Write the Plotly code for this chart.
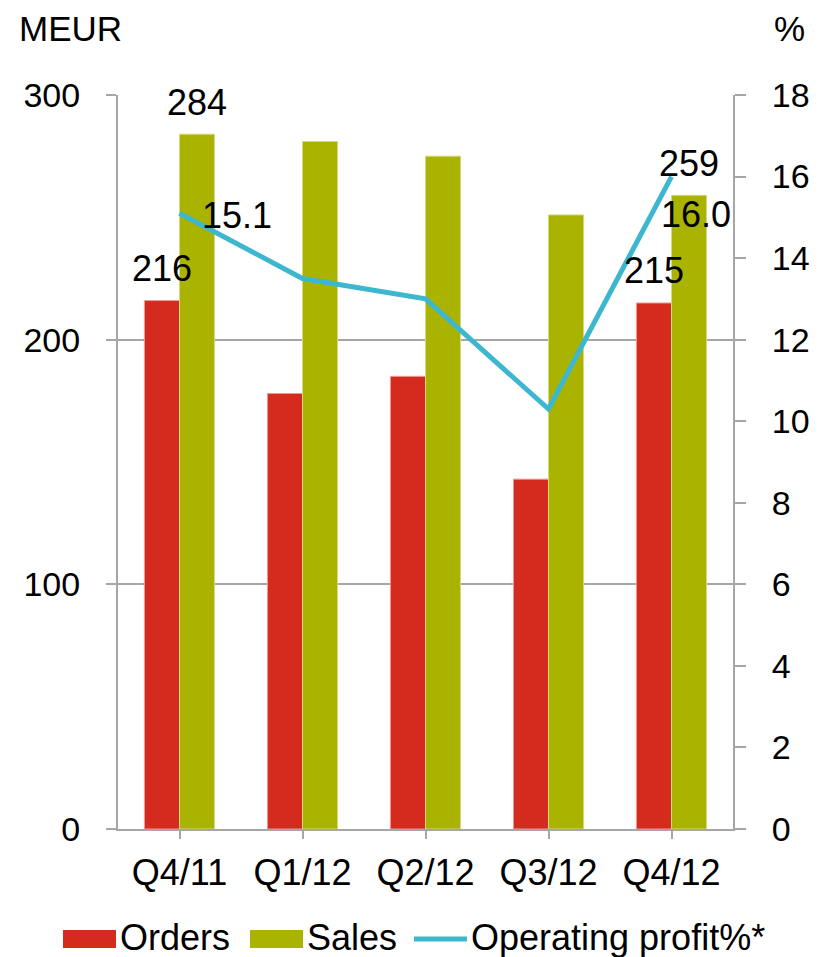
import plotly.graph_objects as go

# data
quarters = ["Q4/11", "Q1/12", "Q2/12", "Q3/12", "Q4/12"]
orders = [216, 178, 185, 143, 215]
sales = [284, 281, 275, 251, 259]
op_profit = [15.1, 13.5, 13.0, 10.3, 16.0]
series_names = ["Orders", "Sales", "Operating profit%*"]
labelled = [0, 4]  # only first and last quarter carry value labels

RED = "#D52B1E"
GREEN = "#AAB400"
BLUE = "#3DB7CF"
GRID = "#A6A6A6"
FONT = "Liberation Sans, Arial, sans-serif"
FS = 36
TICK_FS = 34
EDGE_FS = 35
LEGEND_FS = 36

# the page body has an 8px margin, so the figure starts at (8, 8)
OFF = 8
W, H = 819 - OFF, 957 - OFF
L, T = 118 - OFF, 95 - OFF
R = (OFF + W) - 733
B = (OFF + H) - 829


def px_x(px):
    # pixel position in the reference -> paper coordinate
    return (px - OFF - L) / (W - L - R)


def px_y(py):
    return (H - B - (py - OFF)) / (H - B - T)


fig = go.Figure()
fig.add_trace(
    go.Bar(x=quarters, y=orders, name=series_names[0], marker_color=RED,
           marker_line=dict(color="#EE9A94", width=1))
)
fig.add_trace(
    go.Bar(x=quarters, y=sales, name=series_names[1], marker_color=GREEN,
           marker_line=dict(color="#D4DA80", width=1))
)
fig.add_trace(
    go.Scatter(x=quarters, y=op_profit, name=series_names[2], yaxis="y2",
               mode="lines", line=dict(color=BLUE, width=5))
)

annotations = []
for i in labelled:
    annotations.append(dict(x=quarters[i], y=orders[i], xref="x", yref="y",
                            text=str(orders[i]), showarrow=False,
                            xshift=-18, yshift=32, yanchor="middle"))
    annotations.append(dict(x=quarters[i], y=sales[i], xref="x", yref="y",
                            text=str(sales[i]), showarrow=False,
                            xshift=17, yshift=32, yanchor="middle"))
annotations.append(dict(x=quarters[0], y=op_profit[0], xref="x", yref="y2",
                        text=f"{op_profit[0]:.1f}", showarrow=False,
                        xanchor="left", xshift=20, yshift=-2))
annotations.append(dict(x=quarters[4], y=op_profit[4], xref="x", yref="y2",
                        text=f"{op_profit[4]:.1f}", showarrow=False,
                        xshift=24, yshift=-38))

# axis titles at the top corners
annotations.append(dict(x=px_x(17), y=px_y(28), xref="paper", yref="paper",
                        text="MEUR", showarrow=False, xanchor="left",
                        yanchor="middle", font=dict(size=EDGE_FS)))
annotations.append(dict(x=px_x(807), y=px_y(28), xref="paper", yref="paper",
                        text="%", showarrow=False, xanchor="right",
                        yanchor="middle", font=dict(size=EDGE_FS)))

# legend drawn by hand so the swatches match the original size
shapes = [
    dict(type="rect", xref="paper", yref="paper", x0=px_x(63), x1=px_x(116),
         y0=px_y(948), y1=px_y(930), fillcolor=RED, line_width=0),
    dict(type="rect", xref="paper", yref="paper", x0=px_x(250), x1=px_x(303),
         y0=px_y(948), y1=px_y(930), fillcolor=GREEN, line_width=0),
    dict(type="line", xref="paper", yref="paper", x0=px_x(414), x1=px_x(467),
         y0=px_y(939), y1=px_y(939), line=dict(color=BLUE, width=5)),
]
for name, left in zip(series_names, [118, 305, 469]):
    annotations.append(dict(x=px_x(left), y=px_y(937), xref="paper", yref="paper",
                            text=name, showarrow=False, xanchor="left",
                            yanchor="middle", font=dict(size=LEGEND_FS)))

fig.update_layout(
    width=W,
    height=H,
    margin=dict(l=L, r=R, t=T, b=B, autoexpand=False),
    barmode="group",
    bargap=0.43,
    bargroupgap=0,
    showlegend=False,
    plot_bgcolor="white",
    paper_bgcolor="white",
    font=dict(family=FONT, size=FS, color="black"),
    annotations=annotations,
    shapes=shapes,
    xaxis=dict(
        type="category",
        range=[-0.5, 4.5],
        automargin=False,
        showline=True,
        linecolor=GRID,
        linewidth=2,
        ticks="outside",
        ticklen=8,
        tickwidth=2,
        tickcolor=GRID,
        ticklabelstandoff=3,
        showgrid=False,
    ),
    yaxis=dict(
        range=[0, 300],
        dtick=100,
        automargin=False,
        showline=True,
        linecolor=GRID,
        linewidth=2,
        ticks="outside",
        ticklen=10,
        tickwidth=2,
        tickcolor=GRID,
        tickfont=dict(size=TICK_FS),
        showgrid=True,
        gridcolor=GRID,
        gridwidth=2,
        zeroline=False,
        ticklabelstandoff=19,
    ),
    yaxis2=dict(
        range=[0, 18],
        dtick=2,
        overlaying="y",
        side="right",
        automargin=False,
        showline=True,
        linecolor=GRID,
        linewidth=2,
        ticks="outside",
        ticklen=11,
        tickwidth=2,
        tickcolor=GRID,
        tickfont=dict(size=TICK_FS),
        showgrid=False,
        zeroline=False,
        ticklabelstandoff=19,
    ),
)

fig.write_html("out.html")
